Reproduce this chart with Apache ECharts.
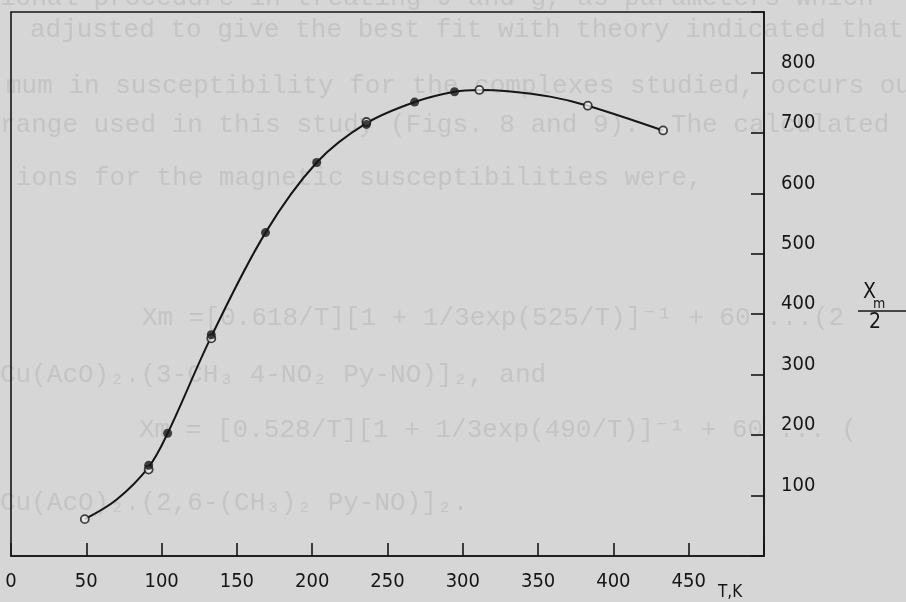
<!DOCTYPE html>
<html>
<head>
<meta charset="utf-8">
<script src="https://cdn.jsdelivr.net/npm/echarts@6/dist/echarts.min.js"></script>
<style>
  html, body { margin: 0; padding: 0; background: #d6d6d6; }
  #chart { width: 906px; height: 602px; }
</style>
</head>
<body>
<div id="chart"></div>
<script>
// Temperature (K) and χm/2 readings for the two copper acetate adducts
var filledT = [91.4, 104, 133, 169, 203, 236, 268, 294.5];
var filledY = [150, 203, 366, 535, 651, 714, 751, 768];
var openT = [49, 91.4, 133, 236, 311, 383, 433];
var openY = [61, 143, 360, 718, 771, 745, 704];

// Fitted susceptibility curve
var curveT = [49, 70, 91.4, 104, 133, 169, 203, 236, 268, 294.5, 311, 330, 358, 383, 433];
var curveY = [61, 93, 147, 203, 363, 535, 651, 716, 751, 768, 771, 769, 760, 745, 704];

// Axis labels
var xLabels = [0, 50, 100, 150, 200, 250, 300, 350, 400, 450];
var yLabels = [100, 200, 300, 400, 500, 600, 700, 800];

// Page text printed under the figure
var pageLines = [
  'ional procedure in treating J and g, as parameters which',
  'adjusted to give the best fit with theory indicated that th',
  'mum in susceptibility for the complexes studied, occurs out',
  'range used in this study (Figs. 8 and 9).  The calculated',
  'ions for the magnetic susceptibilities were,',
  'Xm =[0.618/T][1 + 1/3exp(525/T)]⁻¹ + 60 ...(2',
  'Cu(AcO)₂.(3-CH₃ 4-NO₂ Py-NO)]₂, and',
  'Xm = [0.528/T][1 + 1/3exp(490/T)]⁻¹ + 60 ... (',
  'Cu(AcO)₂.(2,6-(CH₃)₂ Py-NO)]₂.'
];
var pageX = [0, 30, 6, 0, 16, 142, 0, 139, 0];
var pageY = [-2, 30, 86, 125, 178, 318, 375, 430, 503];

function pairs(xs, ys) {
  return xs.map(function (v, i) { return [v, ys[i]]; });
}

var chart = echarts.init(document.getElementById('chart'), null, { renderer: 'canvas' });

var ink = '#161616';
var labelFont = '"DejaVu Sans Condensed", "DejaVu Sans", sans-serif';

var graphics = pageLines.map(function (t, i) {
  return {
    type: 'text',
    z: -10,
    silent: true,
    x: pageX[i],
    y: pageY[i],
    style: {
      text: t,
      fill: '#c4c4c4',
      font: '26px "Liberation Mono", "DejaVu Sans Mono", monospace',
      textVerticalAlign: 'middle'
    }
  };
});
graphics.push(
  { type: 'text', x: 863, y: 282, style: { text: 'X', fill: ink, font: '21px ' + labelFont } },
  { type: 'text', x: 873, y: 297, style: { text: 'm', fill: ink, font: '14px ' + labelFont } },
  { type: 'line', shape: { x1: 858, y1: 311, x2: 906, y2: 311 }, style: { stroke: ink, lineWidth: 1.5 } },
  { type: 'text', x: 869, y: 312, style: { text: '2', fill: ink, font: '21px ' + labelFont } },
  { type: 'text', x: 718, y: 584, style: { text: 'T,K', fill: ink, font: '17px ' + labelFont } }
);

chart.setOption({
  backgroundColor: '#d6d6d6',
  animation: false,
  grid: {
    left: 11, right: 142, top: 12, bottom: 46,
    show: true, borderColor: ink, borderWidth: 1.6, backgroundColor: 'transparent'
  },
  xAxis: {
    type: 'value',
    min: 0, max: 500, interval: 50,
    position: 'bottom',
    splitLine: { show: false },
    axisLine: { show: true, onZero: false, lineStyle: { color: ink, width: 1.6 } },
    axisTick: { show: true, inside: true, length: 13, lineStyle: { color: ink, width: 1.6 } },
    axisLabel: {
      customValues: xLabels, margin: 16,
      color: ink, fontSize: 20, fontFamily: labelFont
    }
  },
  yAxis: {
    type: 'value',
    min: 0, max: 900, interval: 100,
    position: 'right',
    splitLine: { show: false },
    axisLine: { show: true, onZero: false, lineStyle: { color: ink, width: 1.6 } },
    axisTick: { show: true, inside: true, length: 13, lineStyle: { color: ink, width: 1.6 } },
    axisLabel: {
      customValues: yLabels, margin: 17, verticalAlign: 'bottom',
      color: ink, fontSize: 20, fontFamily: labelFont
    }
  },
  graphic: graphics,
  series: [
    {
      type: 'line',
      data: pairs(curveT, curveY),
      smooth: 0.35,
      showSymbol: false,
      lineStyle: { color: ink, width: 2 },
      z: 2
    },
    {
      type: 'scatter',
      data: pairs(openT, openY),
      symbol: 'circle',
      symbolSize: 8,
      itemStyle: { color: '#ececec', borderColor: ink, borderWidth: 1.8 },
      z: 3
    },
    {
      type: 'scatter',
      data: pairs(filledT, filledY),
      symbol: 'circle',
      symbolSize: 9,
      itemStyle: { color: ink },
      z: 4
    }
  ]
});
</script>
</body>
</html>
